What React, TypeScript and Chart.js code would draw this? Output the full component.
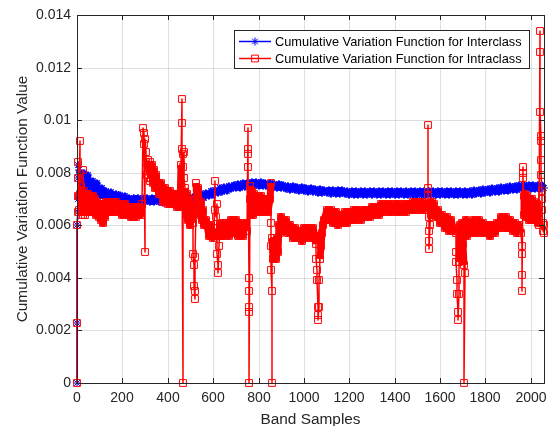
import { useEffect, useRef } from 'react';
import { Chart, registerables } from 'chart.js';

Chart.register(...registerables);

const FONT = '"Liberation Sans", Arial, Helvetica, sans-serif';
const AXIS_INK = '#262626';
const GRID = 'rgba(38,38,38,0.15)';
const BLUE = '#0000ff';
const RED = '#ff0000';

const seriesNames = [
  'Cumulative Variation Function for Interclass',
  'Cumulative Variation Function for Intraclass',
];
const xTitle = 'Band Samples';
const yTitle = 'Cumulative Variation Function Value';

const X_MAX = 2058;
const xTicks = [0, 200, 400, 600, 800, 1000, 1200, 1400, 1600, 1800, 2000];
const yTicks = [0, 0.002, 0.004, 0.006, 0.008, 0.01, 0.012, 0.014];
const yTickLabels = ['0', '0.002', '0.004', '0.006', '0.008', '0.01', '0.012', '0.014'];

// Interclass curve: the first few bands, then one value every 10 bands from band 10
const interStart: [number, number][] = [
  [0, 0], [1, 0.0023], [2, 0.006], [3, 0.0065], [4, 0.0083], [5, 0.007], [6, 0.0078], [8, 0.0071],
];
const INTER_STEP = 10;
const interBand = [
  0.0081, 0.0071, 0.008, 0.0071, 0.0079, 0.0071, 0.0077, 0.0071, 0.0076, 0.0071,
  0.0074, 0.0071, 0.0073, 0.00705, 0.00725, 0.007, 0.0072, 0.007, 0.00715, 0.00695,
  0.0071, 0.0069, 0.00705, 0.00688, 0.00703, 0.00688, 0.00703, 0.00688, 0.00705, 0.0069,
  0.00705, 0.0069, 0.00703, 0.00688, 0.00702, 0.00687, 0.00701, 0.00686, 0.007, 0.00685,
  0.007, 0.00685, 0.007, 0.00685, 0.00701, 0.00686, 0.00702, 0.00687, 0.00704, 0.00689,
  0.00708, 0.00693, 0.00713, 0.00698, 0.00718, 0.00704, 0.00724, 0.0071, 0.0073, 0.00716,
  0.00736, 0.00722, 0.00742, 0.00727, 0.00747, 0.00732, 0.00751, 0.00737, 0.00755, 0.0074,
  0.00758, 0.00743, 0.0076, 0.00746, 0.00762, 0.00748, 0.00763, 0.00749, 0.00764, 0.00749,
  0.00763, 0.00748, 0.00762, 0.00747, 0.0076, 0.00745, 0.00758, 0.00743, 0.00756, 0.00741,
  0.00754, 0.00739, 0.00751, 0.00736, 0.00748, 0.00733, 0.00746, 0.00731, 0.00744, 0.00729,
  0.00742, 0.00727, 0.0074, 0.00725, 0.00738, 0.00723, 0.00737, 0.00722, 0.00736, 0.00721,
  0.00735, 0.0072, 0.00734, 0.00719, 0.00733, 0.00718, 0.00733, 0.00718, 0.00732, 0.00717,
  0.00732, 0.00717, 0.00732, 0.00717, 0.00732, 0.00717, 0.00732, 0.00717, 0.00732, 0.00717,
  0.00732, 0.00717, 0.00732, 0.00717, 0.00731, 0.00716, 0.00731, 0.00716, 0.00731, 0.00716,
  0.00731, 0.00716, 0.00731, 0.00716, 0.00731, 0.00716, 0.0073, 0.00715, 0.0073, 0.00715,
  0.0073, 0.00715, 0.0073, 0.00715, 0.0073, 0.00715, 0.0073, 0.00715, 0.0073, 0.00715,
  0.0073, 0.00715, 0.0073, 0.00715, 0.0073, 0.00715, 0.0073, 0.00715, 0.0073, 0.00715,
  0.00731, 0.00716, 0.00732, 0.00717, 0.00733, 0.00718, 0.00735, 0.0072, 0.00737, 0.00722,
  0.00739, 0.00724, 0.00741, 0.00726, 0.00743, 0.00728, 0.00745, 0.0073, 0.00747, 0.00732,
  0.00749, 0.00734, 0.0075, 0.00735, 0.00752, 0.00737, 0.00753, 0.00738, 0.00754, 0.00739,
  0.00754, 0.00739, 0.00754, 0.00739, 0.00753,
];
const interEnd: [number, number][] = [[2058, 0.0074]];

// Intraclass curve: [band, value]
const intraPoints: [number, number][] = [
  [0, 0], [1, 0.0023], [2, 0.006], [3, 0.0065], [4, 0.0071], [5, 0.0078], [6, 0.0084], [8, 0.0066],
  [10, 0.0071], [12, 0.0092], [14, 0.0072], [16, 0.0064], [18, 0.0075], [20, 0.0065], [23, 0.0073],
  [26, 0.0064], [28, 0.0081], [30, 0.0066], [33, 0.0073], [36, 0.0064], [40, 0.0072], [45, 0.0065],
  [50, 0.0072], [55, 0.0065], [60, 0.0071], [65, 0.0065], [70, 0.0071], [75, 0.0065], [80, 0.007],
  [85, 0.0064], [90, 0.0069], [95, 0.0063], [100, 0.0068], [105, 0.0062], [110, 0.0066], [115, 0.0061],
  [120, 0.0068], [125, 0.0063], [130, 0.0069], [140, 0.0065], [150, 0.0069], [160, 0.0065], [170, 0.0069],
  [180, 0.0065], [190, 0.0068], [200, 0.0064], [210, 0.0068], [220, 0.0064], [230, 0.0067], [240, 0.0063],
  [250, 0.0067], [260, 0.0063], [270, 0.0067], [280, 0.0064], [288, 0.0068],
  [292, 0.0097], [294, 0.0095], [296, 0.0091], [298, 0.005], [300, 0.0093], [302, 0.0088], [305, 0.0084],
  [308, 0.0079], [311, 0.0085], [314, 0.0078], [317, 0.0083], [320, 0.0077], [323, 0.0084], [326, 0.0078],
  [330, 0.0083], [335, 0.0076], [340, 0.0081], [345, 0.0074], [350, 0.0079], [360, 0.0072], [370, 0.0076],
  [380, 0.0069], [390, 0.0074], [400, 0.0068], [410, 0.0073], [420, 0.0068], [430, 0.0072], [440, 0.0067],
  [450, 0.0072], [456, 0.0067],
  [460, 0.0083], [462, 0.0108], [463, 0.0099], [464, 0.0089], [465, 0], [466, 0.0087], [468, 0.0082],
  [470, 0.0088], [472, 0.0078], [475, 0.0074], [480, 0.0064], [485, 0.0072], [490, 0.0062], [495, 0.007],
  [500, 0.006], [505, 0.0067], [510, 0.0061],
  [512, 0.0049], [514, 0.0045], [516, 0.0037], [518, 0.0032], [519, 0.0035], [520, 0.0048], [523, 0.0066],
  [526, 0.0076], [530, 0.0068], [535, 0.0074], [540, 0.0064], [545, 0.0069], [550, 0.0062], [555, 0.0066],
  [560, 0.006], [570, 0.0062], [580, 0.0056], [590, 0.006], [600, 0.0055], [605, 0.0059],
  [607, 0.0077], [609, 0.0066], [612, 0.0063], [615, 0.0068], [617, 0.0056], [619, 0.0049], [621, 0.0045],
  [623, 0.0042], [625, 0.0052], [628, 0.006], [632, 0.0056], [640, 0.0061], [650, 0.0056], [660, 0.0061],
  [670, 0.0056], [680, 0.0062], [690, 0.0057], [700, 0.0062], [710, 0.0056], [720, 0.0061], [730, 0.0056],
  [740, 0.0061], [748, 0.0058],
  [752, 0.0097], [753, 0.0089], [754, 0.0087], [755, 0.0082], [756, 0.004], [757, 0.0035], [758, 0.0029],
  [759, 0.0027], [760, 0], [761, 0.007], [764, 0.0075], [768, 0.0065], [772, 0.0073], [776, 0.0064],
  [780, 0.0072], [785, 0.0065], [790, 0.0071], [800, 0.0065], [810, 0.0071], [820, 0.0065], [830, 0.007],
  [840, 0.0065], [850, 0.007],
  [854, 0.0076], [855, 0.0061], [856, 0.0052], [857, 0.0043], [858, 0.0035], [859, 0], [861, 0.0055],
  [865, 0.0047], [870, 0.0054], [875, 0.0047], [880, 0.0055], [885, 0.005], [890, 0.006], [895, 0.0057],
  [900, 0.0063], [910, 0.0058], [920, 0.0062], [930, 0.0057], [940, 0.006], [950, 0.0055], [960, 0.0059],
  [970, 0.0055], [980, 0.0058], [990, 0.0054], [1000, 0.0059], [1010, 0.0055], [1020, 0.0059], [1030, 0.0055],
  [1040, 0.0059], [1048, 0.0056],
  [1052, 0.0053], [1054, 0.0047], [1056, 0.0043], [1058, 0.0039], [1060, 0.0029], [1062, 0.0026],
  [1064, 0.0024], [1066, 0.0029], [1068, 0.0039], [1070, 0.0047], [1074, 0.0052], [1078, 0.0057],
  [1082, 0.006], [1090, 0.0062], [1100, 0.0066], [1110, 0.0062], [1120, 0.0066], [1130, 0.0061],
  [1140, 0.0065], [1150, 0.006], [1160, 0.0064], [1170, 0.0061], [1180, 0.0065], [1190, 0.0061],
  [1200, 0.0065], [1210, 0.0062], [1220, 0.0066], [1230, 0.0062], [1240, 0.0066], [1250, 0.0062],
  [1260, 0.0066], [1270, 0.0063], [1280, 0.0066], [1290, 0.0063], [1300, 0.0067], [1310, 0.0064],
  [1320, 0.0067], [1330, 0.0064], [1340, 0.0068], [1350, 0.0065], [1360, 0.0068], [1370, 0.0065],
  [1380, 0.0068], [1390, 0.0065], [1400, 0.0068], [1410, 0.0065], [1420, 0.0068], [1430, 0.0065],
  [1440, 0.0068], [1450, 0.0065], [1460, 0.0068], [1470, 0.0066], [1480, 0.0069], [1490, 0.0066],
  [1500, 0.0069], [1510, 0.0066], [1520, 0.0069], [1530, 0.0066], [1540, 0.0068],
  [1545, 0.0067], [1547, 0.0098], [1548, 0.0074], [1549, 0.0071], [1550, 0.0063], [1551, 0.0058],
  [1552, 0.0054], [1553, 0.0051], [1555, 0.006], [1558, 0.0068], [1562, 0.0064], [1566, 0.0069],
  [1570, 0.0064], [1575, 0.0068], [1580, 0.0063], [1590, 0.0066], [1600, 0.0061], [1610, 0.0064],
  [1620, 0.0059], [1630, 0.0063], [1640, 0.0058], [1650, 0.0062], [1660, 0.0058],
  [1668, 0.0057], [1670, 0.005], [1672, 0.0046], [1674, 0.0039], [1676, 0.0034], [1678, 0.0027],
  [1680, 0.0024], [1682, 0.0034], [1684, 0.0046], [1688, 0.006], [1692, 0.0055], [1696, 0.0061],
  [1700, 0.0053], [1704, 0.0045], [1706, 0], [1708, 0.0042], [1710, 0.0058], [1715, 0.0062],
  [1720, 0.0056], [1730, 0.0061], [1740, 0.0057], [1750, 0.0062], [1760, 0.0057], [1770, 0.0062],
  [1780, 0.0057], [1790, 0.0061], [1800, 0.0057], [1810, 0.006], [1820, 0.0056], [1830, 0.006],
  [1840, 0.0057], [1850, 0.0061], [1860, 0.0059], [1870, 0.0063], [1880, 0.0059], [1890, 0.0063],
  [1900, 0.0059], [1910, 0.0062], [1920, 0.0058], [1930, 0.0061], [1940, 0.0057], [1950, 0.006],
  [1958, 0.0057],
  [1960, 0.0052], [1961, 0.0049], [1962, 0.0041], [1963, 0.0035], [1964, 0.0082], [1965, 0.008],
  [1966, 0.0078], [1968, 0.0071], [1972, 0.0064], [1976, 0.0072], [1980, 0.0063], [1985, 0.0071],
  [1990, 0.0062], [1995, 0.007], [2000, 0.0062], [2005, 0.007], [2010, 0.0063], [2015, 0.0069],
  [2020, 0.0062], [2025, 0.0068], [2030, 0.0061], [2035, 0.0067], [2038, 0.006],
  [2040, 0.0134], [2041, 0.0126], [2042, 0.0103], [2043, 0.0094], [2044, 0.0092], [2045, 0.0085],
  [2046, 0.0079], [2047, 0.0073], [2048, 0.007], [2050, 0.0066], [2052, 0.0058], [2054, 0.0061],
  [2056, 0.0057], [2058, 0.006],
];

const interData = [
  ...interStart,
  ...interBand.map((y, i) => [INTER_STEP * (i + 1), y] as [number, number]),
  ...interEnd,
].map(([x, y]) => ({ x, y }));
const intraData = intraPoints.map(([x, y]) => ({ x, y }));

// Dense runs of samples (neighbouring values close together) render as a solid
// ribbon; steep jumps between adjacent bands keep a thin stroke.
const ribbonWidth = (thick: number, thin: number) => (ctx: any) => {
  const dx = Math.abs(ctx.p1.parsed.x - ctx.p0.parsed.x);
  const dy = Math.abs(ctx.p1.parsed.y - ctx.p0.parsed.y);
  return dx >= 4 && dy < 0.0016 ? thick : thin;
};

// Axes box with inward tick marks on all four sides
const framePlugin = {
  id: 'frameBox',
  afterDatasetsDraw(chart: any) {
    const { ctx, chartArea: a, scales } = chart;
    const tick = 5;
    ctx.save();
    ctx.strokeStyle = AXIS_INK;
    ctx.lineWidth = 1;
    ctx.beginPath();
    for (const v of xTicks) {
      const px = Math.round(scales.x.getPixelForValue(v)) + 0.5;
      ctx.moveTo(px, a.bottom);
      ctx.lineTo(px, a.bottom - tick);
      ctx.moveTo(px, a.top);
      ctx.lineTo(px, a.top + tick);
    }
    for (const v of yTicks) {
      const py = Math.round(scales.y.getPixelForValue(v)) + 0.5;
      ctx.moveTo(a.left, py);
      ctx.lineTo(a.left + tick, py);
      ctx.moveTo(a.right, py);
      ctx.lineTo(a.right - tick, py);
    }
    ctx.stroke();
    ctx.strokeRect(a.left + 0.5, a.top + 0.5, a.right - a.left, a.bottom - a.top);
    ctx.restore();
  },
};

// Legend box drawn inside the upper right of the plot area
const legendPlugin = {
  id: 'insetLegend',
  afterDraw(chart: any) {
    const { ctx, chartArea: a } = chart;
    const font = `12.8px ${FONT}`;
    ctx.save();
    ctx.font = font;
    const textW = Math.max(...seriesNames.map((s) => ctx.measureText(s).width));
    const w = Math.round(41 + textW + 7);
    const h = 38;
    const right = a.right - 15;
    const left = right - w;
    const top = a.top + 15;
    ctx.fillStyle = '#ffffff';
    ctx.fillRect(left, top, w, h);
    ctx.strokeStyle = AXIS_INK;
    ctx.lineWidth = 1;
    ctx.strokeRect(left + 0.5, top + 0.5, w, h);
    const rows = [
      { color: BLUE, style: 'star', y: top + 11.5 },
      { color: RED, style: 'rect', y: top + 28.5 },
    ];
    rows.forEach((r, i) => {
      const x0 = left + 5;
      const x1 = left + 37;
      const xm = (x0 + x1) / 2;
      ctx.strokeStyle = r.color;
      ctx.lineWidth = 1.5;
      ctx.beginPath();
      ctx.moveTo(x0, r.y);
      ctx.lineTo(x1, r.y);
      ctx.stroke();
      ctx.lineWidth = 1;
      ctx.beginPath();
      if (r.style === 'star') {
        const rr = 4;
        const d = rr * Math.SQRT1_2;
        ctx.moveTo(xm, r.y - rr);
        ctx.lineTo(xm, r.y + rr);
        ctx.moveTo(xm - rr, r.y);
        ctx.lineTo(xm + rr, r.y);
        ctx.moveTo(xm - d, r.y - d);
        ctx.lineTo(xm + d, r.y + d);
        ctx.moveTo(xm - d, r.y + d);
        ctx.lineTo(xm + d, r.y - d);
      } else {
        ctx.rect(xm - 3.4, r.y - 3.4, 6.8, 6.8);
      }
      ctx.stroke();
      ctx.fillStyle = '#000000';
      ctx.textAlign = 'left';
      ctx.textBaseline = 'middle';
      ctx.fillText(seriesNames[i], left + 41, r.y + 0.5);
    });
    ctx.restore();
  },
};

export default function App() {
  const canvasRef = useRef<HTMLCanvasElement>(null);

  useEffect(() => {
    const canvas = canvasRef.current;
    if (!canvas) return;
    const chart = new Chart(canvas, {
      type: 'line',
      data: {
        datasets: [
          {
            label: seriesNames[0],
            data: interData,
            order: 1,
            borderColor: BLUE,
            backgroundColor: BLUE,
            borderWidth: 1.5,
            borderJoinStyle: 'round',
            segment: { borderWidth: ribbonWidth(6, 1.5) },
            pointStyle: 'star',
            pointRadius: 4,
            pointBorderWidth: 1,
            pointBorderColor: BLUE,
            pointBackgroundColor: 'rgba(0,0,0,0)',
            tension: 0,
            clip: false,
          } as any,
          {
            label: seriesNames[1],
            data: intraData,
            order: 0,
            borderColor: RED,
            backgroundColor: RED,
            borderWidth: 1.5,
            borderJoinStyle: 'round',
            segment: { borderWidth: ribbonWidth(7, 1.5) },
            pointStyle: 'rect',
            pointRadius: 4.8,
            pointBorderWidth: 1,
            pointBorderColor: RED,
            pointBackgroundColor: 'rgba(0,0,0,0)',
            tension: 0,
            clip: false,
          } as any,
        ],
      },
      options: {
        responsive: false,
        animation: false,
        devicePixelRatio: 1,
        events: [],
        layout: { padding: { left: 0, right: 13, top: 15, bottom: 0 } },
        plugins: {
          legend: { display: false },
          tooltip: { enabled: false },
        },
        scales: {
          x: {
            type: 'linear',
            min: 0,
            max: X_MAX,
            alignToPixels: true,
            afterBuildTicks: (s: any) => {
              s.ticks = xTicks.map((v) => ({ value: v }));
            },
            afterFit: (s: any) => {
              s.height = 43;
            },
            ticks: {
              autoSkip: false,
              maxRotation: 0,
              padding: 7,
              color: AXIS_INK,
              font: { family: FONT, size: 14 },
              callback: (v: any) => String(v),
            },
            grid: { color: GRID, lineWidth: 1, drawTicks: false },
            border: { display: false },
            title: {
              display: true,
              text: xTitle,
              color: AXIS_INK,
              font: { family: FONT, size: 15.4 },
              padding: { top: 0, bottom: -2.9 },
            },
          },
          y: {
            type: 'linear',
            min: 0,
            max: 0.014,
            alignToPixels: true,
            afterBuildTicks: (s: any) => {
              s.ticks = yTicks.map((v) => ({ value: v }));
            },
            afterFit: (s: any) => {
              s.width = 77;
            },
            ticks: {
              autoSkip: false,
              padding: 6,
              color: AXIS_INK,
              font: { family: FONT, size: 14 },
              callback: (_v: any, i: number) => yTickLabels[i],
            },
            grid: { color: GRID, lineWidth: 1, drawTicks: false },
            border: { display: false },
            title: {
              display: true,
              text: yTitle,
              color: AXIS_INK,
              font: { family: FONT, size: 15.4 },
              padding: { top: 13.1, bottom: 0 },
            },
          },
        },
      },
      plugins: [framePlugin, legendPlugin],
    } as any);
    return () => chart.destroy();
  }, []);

  return (
    <div style={{ position: 'absolute', left: 0, top: 0, width: 557, height: 426, background: '#ffffff' }}>
      <canvas ref={canvasRef} width={557} height={426} style={{ display: 'block', width: 557, height: 426 }} />
    </div>
  );
}
